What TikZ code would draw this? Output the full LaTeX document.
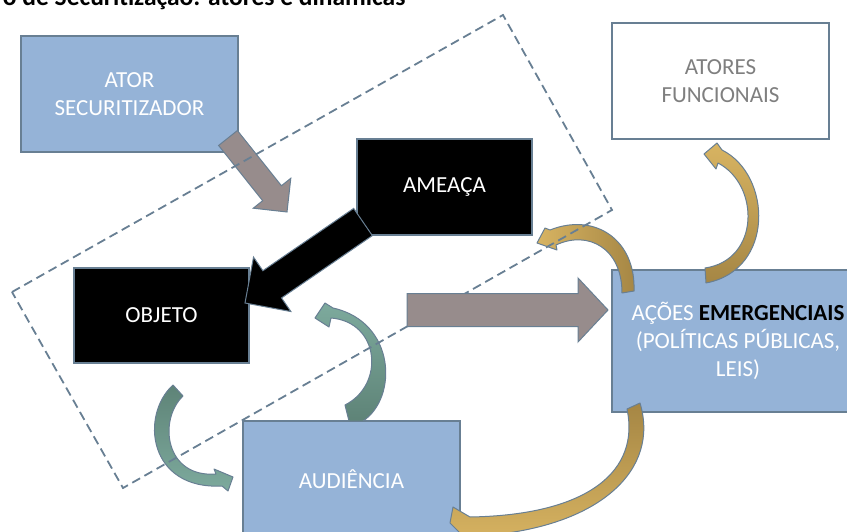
\documentclass[tikz,border=0pt]{standalone}
\usepackage{fontspec}
\setmainfont{Carlito}
\usetikzlibrary{calc}
\definecolor{boxblue}{HTML}{95B3D7}
\definecolor{edgeblue}{HTML}{687F93}
\definecolor{arrowgray}{HTML}{978C8C}
\definecolor{greenlight}{HTML}{7DAA9D}
\definecolor{greendark}{HTML}{5E8377}
\definecolor{goldlight}{HTML}{D8B462}
\definecolor{golddark}{HTML}{A58644}
\definecolor{textgray}{HTML}{7F7F7F}
% block arrow: (start)(tip)(half shaft:half head:head length)
\def\blockarrow[#1](#2)(#3)(#4:#5:#6){\coordinate (ba-base) at ($(#3)!#6!(#2)$);
  \draw[#1] ($(#2)!#4!90:(#3)$) -- ($(ba-base)!#4!-90:(#2)$) -- ($(ba-base)!#5!-90:(#2)$) -- (#3)
    -- ($(ba-base)!#5!90:(#2)$) -- ($(ba-base)!#4!90:(#2)$) -- ($(#2)!#4!-90:(#3)$) -- cycle;}
\tikzset{
  box/.style={draw=edgeblue, line width=1.8pt, minimum width=217pt, minimum height=116pt,
    inner sep=0pt, align=center, font=\fontsize{23}{28}\selectfont},
  bluebox/.style={box, fill=boxblue, text=white},
  darkbox/.style={box, fill=black, text=white, minimum width=175pt, minimum height=96pt},
  curl/.style={draw=edgeblue, line width=1pt, line join=round},
  frame/.style={draw=edgeblue, line width=1.8pt, dash pattern=on 9pt off 5pt}
}

\begin{document}
\begin{tikzpicture}[x=1pt, y=-1pt]
		\useasboundingbox (0,0) rectangle (847,532);
		\clip (0,0) rectangle (847,532);
		
		\node[anchor=base east, font=\fontsize{25.5}{30}\selectfont\bfseries] (titulo) at (409,6) {o de Securitização: atores e dinâmicas};
		
		%%%%% boxes %%%%%
		\node[bluebox] (ator) at (129.5,94) {ATOR\\SECURITIZADOR};
		\node[box, fill=white, text=textgray] (funcionais) at (720.5,81) {ATORES\\FUNCIONAIS};
		\node[darkbox] (ameaca) at (444.5,187) {AMEAÇA};
		\node[darkbox, minimum height=95pt] (objeto) at (161.5,315.5) {OBJETO};
		\node[bluebox] (audiencia) at (351.5,479) {AUDIÊNCIA};
		\node[bluebox, minimum width=252pt, minimum height=142pt] (acoes) at (738,341)
			{AÇÕES \textcolor{black}{\textbf{EMERGENCIAIS}}\\(POLÍTICAS PÚBLICAS,\\LEIS)};
		
		%%%%% straight arrows %%%%%
		\coordinate (ator-out) at (228,138);
		\coordinate (ator-in) at (287,212);
		\blockarrow[fill=arrowgray, draw=edgeblue, line width=1pt](ator-out)(ator-in)(12pt:24pt:24pt)
		
		\coordinate (ameaca-out) at (363,222);
		\coordinate (objeto-in) at (245,303);
		\blockarrow[fill=black, draw=edgeblue, line width=1pt](ameaca-out)(objeto-in)(16.5pt:33pt:33pt)
		
		%%%%% curved arrows %%%%%
		% objeto -> audiencia
		\shadedraw[curl, top color=greendark, bottom color=greenlight] (173,385) .. controls (140,415) and (148,490) .. (222,486)
			-- (228,491) -- (233,477) -- (214,469) -- (216,474) .. controls (165,478) and (158,420) .. (183,396) -- cycle;
		% audiencia -> objeto
		\shadedraw[curl, top color=greenlight, bottom color=greendark] (345,405) -- (349,421) -- (363,421)
			.. controls (398,398) and (396,322) .. (333,308) -- (325,303) -- (315,318) -- (329,327) -- (331,318)
			.. controls (380,322) and (385,385) .. (345,405) -- cycle;
		% acoes -> ameaca
		\shadedraw[curl, left color=goldlight, right color=golddark] (622,293) -- (634,291)
			.. controls (636,240) and (595,212) .. (550,230) -- (545,228) -- (537,243) -- (557,250) -- (556,245)
			.. controls (588,230) and (622,248) .. (622,293) -- cycle;
		% acoes -> funcionais
		\shadedraw[curl, top color=goldlight, bottom color=golddark] (706,283) .. controls (775,270) and (772,175) .. (722,150)
			-- (717,143) -- (704,154) -- (716,169) -- (718,163) .. controls (760,185) and (760,260) .. (705,268) -- cycle;
		% acoes -> audiencia
		\shadedraw[curl, top color=golddark, bottom color=goldlight] (627,409) -- (640,403) .. controls (660,470) and (600,525) .. (490,535)
			-- (472,545) -- (450,523) -- (453,507) -- (470,517) .. controls (590,515) and (640,470) .. (627,409) -- cycle;
		
		%%%%% dashed frame %%%%%
		\draw[frame] (12,292) -- (503,15) -- (612,210) -- (123,488) -- cycle;
		
		\coordinate (objeto-out) at (407,310);
		\coordinate (acoes-in) at (608,310);
		\blockarrow[fill=arrowgray, draw=edgeblue, line width=1pt](objeto-out)(acoes-in)(16.5pt:32pt:30pt)
		
\end{tikzpicture}
\end{document}
